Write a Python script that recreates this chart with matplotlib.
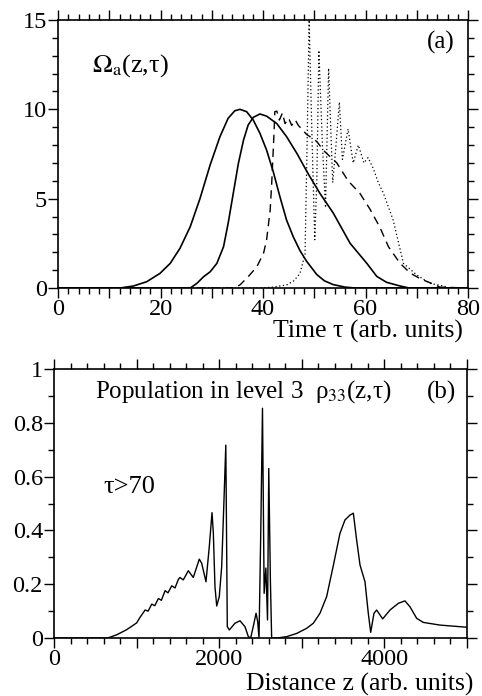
import matplotlib
matplotlib.use('Agg')
import matplotlib.pyplot as plt
from matplotlib.ticker import MultipleLocator, FuncFormatter

plt.rcParams['font.family'] = ['Liberation Serif', 'DejaVu Serif']
plt.rcParams['mathtext.fontset'] = 'stix'

# panel (a): Omega_a(z, tau) at several distances
tau1 = [0, 12.1, 14.7, 17.3, 19.9, 21.9, 23.8, 25.8, 27.7, 29.7, 31.6, 33.2, 34.5, 35.5, 36.8, 38.1,
        39.4, 40.7, 42.0, 43.3, 44.6, 45.9, 47.2, 48.5, 50.5, 52.0, 53.7, 56, 58, 80]
om1 = [0, 0, 0.11, 0.35, 0.82, 1.38, 2.22, 3.43, 5.0, 6.9, 8.47, 9.5, 9.92, 10.0, 9.87, 9.4,
       8.66, 7.72, 6.51, 5.11, 3.8, 2.87, 2.1, 1.5, 0.75, 0.4, 0.19, 0.05, 0, 0]

tau2 = [0, 25.8, 27.1, 28.4, 29.7, 31.0, 32.3, 33.2, 34.2, 35.2, 36.2, 37.1, 38.1, 39.4, 40.7, 42.7,
        44.6, 46.6, 48.8, 51.1, 53.7, 57.0, 60.2, 62.2, 64.1, 66.5, 68.5, 80]
om2 = [0, 0, 0.26, 0.63, 0.91, 1.38, 2.31, 3.62, 5.3, 6.98, 8.28, 9.12, 9.55, 9.74, 9.62, 9.2,
       8.47, 7.54, 6.4, 5.3, 4.2, 2.5, 1.4, 0.65, 0.32, 0.13, 0, 0]

tau3 = [0, 34.2, 35.5, 37.1, 38.8, 40.1, 40.7, 41.4, 41.7, 42.0, 42.2, 42.3, 42.7, 43.2, 43.8, 44.3,
        45.0, 45.6, 46.3, 46.9, 48.5, 50.5, 51.8, 54.4, 56.6, 58.9, 60.9, 62.8, 64.5, 66.7, 68.7,
        70.8, 72.9, 74.5, 80]
om3 = [0, 0, 0.17, 0.63, 1.19, 1.94, 2.69, 4.36, 5.86, 7.72, 9.03, 9.87, 9.9, 9.4, 9.8, 9.2,
       9.5, 9.1, 9.4, 9.1, 8.6, 8.2, 7.7, 7.0, 6.0, 5.3, 4.4, 3.4, 2.3, 1.4, 0.84,
       0.5, 0.26, 0.05, 0]

tau4 = [0, 39.4, 42.0, 44.6, 46.0, 47.2, 48.2, 48.6, 49.0, 49.6, 50.1, 50.5, 50.9, 51.6, 52.2, 52.8,
        53.6, 54.1, 54.9, 55.5, 56.6, 57.6, 58.6, 59.7, 60.5, 61.5, 62.5, 63.5, 65.4, 67.4, 70.0,
        72.6, 75.2, 76.5, 80]
om4 = [0, 0, 0.05, 0.17, 0.4, 0.8, 1.9, 8.0, 15.0, 8.0, 2.7, 6.0, 13.3, 8.0, 4.5, 12.3,
       5.9, 7.5, 10.4, 7.2, 8.9, 7.0, 8.0, 7.0, 7.3, 6.7, 5.9, 5.3, 3.8, 1.38, 0.73,
       0.26, 0.11, 0, 0]

# panel (b): population in level 3 for tau > 70
z = [0, 650, 760, 880, 1000, 1042, 1103, 1140, 1183, 1220, 1264, 1300, 1345, 1380, 1426, 1465, 1506,
     1525, 1565, 1626, 1686, 1759, 1788, 1840, 1880, 1913, 1929, 1949, 1970, 2001, 2030, 2058, 2080,
     2098, 2123, 2191, 2252, 2312, 2353, 2381, 2421, 2446, 2466, 2482, 2504, 2524, 2544, 2565,
     2585, 2600, 2620, 2635, 2700, 2817, 2938, 3059, 3140, 3220, 3301, 3382, 3462, 3523, 3584,
     3624, 3664, 3705, 3765, 3805, 3834, 3874, 3906, 3979, 4068, 4169, 4249, 4310, 4391, 4471,
     4673, 5000]
rho33 = [0, 0, 0.012, 0.031, 0.056, 0.077, 0.104, 0.100, 0.126, 0.120, 0.147, 0.140, 0.176, 0.168, 0.194, 0.186, 0.218,
         0.225, 0.216, 0.25, 0.225, 0.293, 0.278, 0.209, 0.34, 0.466, 0.39, 0.19, 0.119, 0.154, 0.265, 0.513, 0.717,
         0.042, 0.03, 0.055, 0.064, 0.042, 0.005, 0, 0.055, 0.092, 0.061, 0, 0.41, 0.854, 0.166, 0.26,
         0.067, 0.63, 0.21, 0, 0, 0.005, 0.017, 0.036, 0.055, 0.092, 0.154, 0.27, 0.389, 0.439, 0.457,
         0.464, 0.364, 0.271, 0.209, 0.092, 0.021, 0.092, 0.104, 0.071, 0.104, 0.129, 0.138, 0.116, 0.073, 0.058,
         0.048, 0.04]

fig = plt.figure(figsize=(4.82, 6.96), dpi=100)
ax1 = fig.add_axes([58/482, 1 - 288/696, 410/482, 268/696])
ax2 = fig.add_axes([54/482, 1 - 638/696, 413/482, 269/696])

ax1.plot(tau1, om1, 'k-', lw=1.2)
ax1.plot(tau2, om2, 'k-', lw=1.2)
ax1.plot(tau3, om3, 'k', lw=1.0, dashes=(6, 4))
ax1.plot(tau4, om4, 'k', lw=0.9, dashes=(1, 2))
ax1.set_xlim(0, 80)
ax1.set_ylim(0, 15)
ax1.xaxis.set_major_locator(MultipleLocator(10))
ax1.xaxis.set_minor_locator(MultipleLocator(2))
ax1.xaxis.set_major_formatter(FuncFormatter(lambda v, p: '%d' % v if round(v) % 20 == 0 else ''))
ax1.yaxis.set_major_locator(MultipleLocator(5))
ax1.yaxis.set_minor_locator(MultipleLocator(1))
fig.text(92/482, 1 - 66/696, r'$\Omega_{\rm a}$(z,τ)', fontsize=19, ha='left', va='center')
fig.text(441/482, 1 - 42/696, '(a)', fontsize=18, ha='center', va='center')
fig.text(463/482, 1 - 331/696, 'Time τ (arb. units)', fontsize=18.5, ha='right', va='center')

ax2.plot(z, rho33, 'k-', lw=1.0)
ax2.set_xlim(0, 5000)
ax2.set_ylim(0, 1)
ax2.xaxis.set_major_locator(MultipleLocator(1000))
ax2.xaxis.set_minor_locator(MultipleLocator(200))
ax2.xaxis.set_major_formatter(FuncFormatter(lambda v, p: '%d' % v if round(v) % 2000 == 0 else ''))
ax2.yaxis.set_major_locator(MultipleLocator(0.2))
ax2.yaxis.set_minor_locator(MultipleLocator(0.1))
ax2.yaxis.set_major_formatter(FuncFormatter(lambda v, p: ('%g' % round(v, 1))))
fig.text(95/482, 1 - 392/696, r'Population in level 3  ρ$_{33}$(z,τ)', fontsize=18, ha='left', va='center')
fig.text(442/482, 1 - 392/696, '(b)', fontsize=18, ha='center', va='center')
fig.text(103/482, 1 - 487/696, 'τ>70', fontsize=19, ha='left', va='center')
fig.text(473/482, 1 - 684/696, 'Distance z (arb. units)', fontsize=18.5, ha='right', va='center')

for ax in (ax1, ax2):
    ax.tick_params(which='both', top=True, right=True, direction='out', labelsize=17.5, width=1.0, pad=1)
    ax.tick_params(which='major', length=7)
    ax.tick_params(which='minor', length=4)
    for s in ax.spines.values():
        s.set_linewidth(1.2)

fig.savefig('out.png', dpi=100)
